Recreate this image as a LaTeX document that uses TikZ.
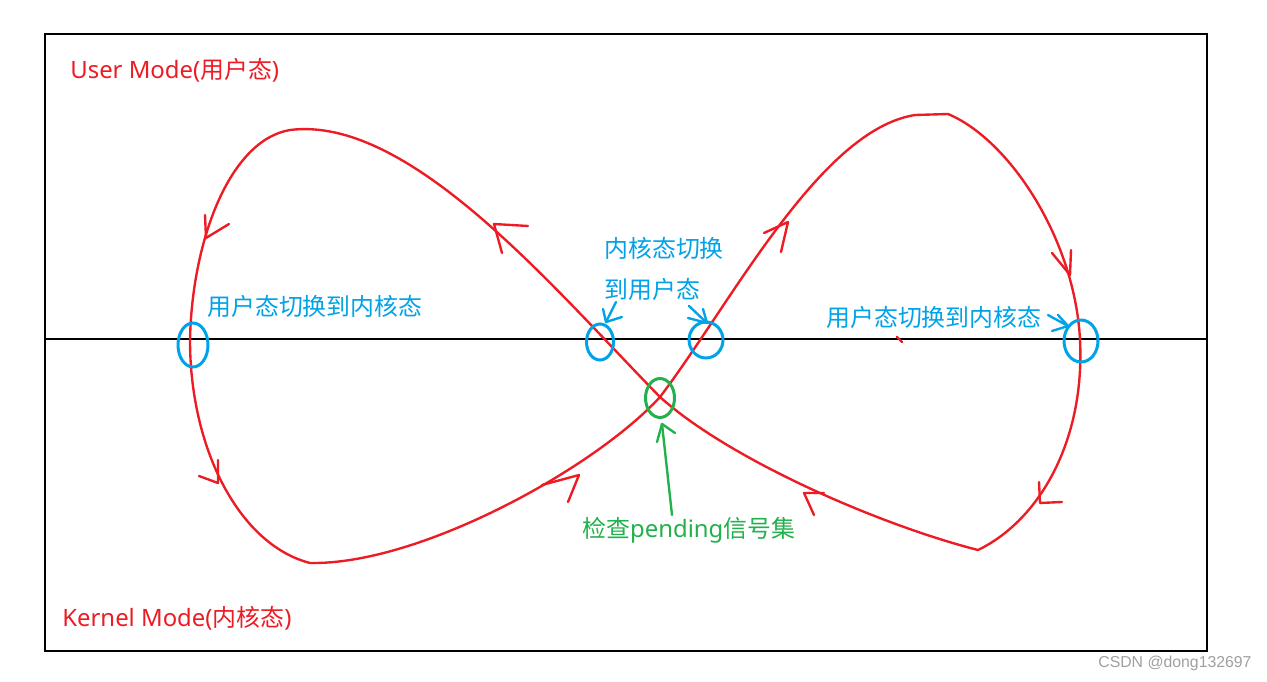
\documentclass[tikz,border=0pt]{standalone}
\usepackage{fontspec}
\setmainfont{Noto Sans CJK SC}
\newfontfamily\latinf{Noto Sans}
\newfontfamily\wmfont{Liberation Sans}
\usetikzlibrary{shapes.geometric}
\definecolor{pred}{HTML}{ED1C24}
\definecolor{pblue}{HTML}{00A2E8}
\definecolor{pgreen}{HTML}{22B14C}
\definecolor{wmgray}{HTML}{A0A0A0}
\newcommand\headmark[4][pred]{\draw[headline,#1] #3 -- #2 -- #4;}
\begin{document}
\begin{tikzpicture}[x=0.02cm,y=-0.02cm,
  frame/.style={draw=black,line width=1.3pt},
  loopline/.style={draw=pred,line width=1.35pt,line join=round,line cap=round},
  headline/.style={line width=1.35pt,line cap=round,line join=round},
  ring/.style={draw=pblue,line width=1.7pt,ellipse,inner sep=0pt},
  gring/.style={draw=pgreen,line width=1.7pt,ellipse,inner sep=0pt},
  lbl/.style={anchor=west,inner sep=0pt,font=\fontsize{13.6}{16}\selectfont},
  redlbl/.style={lbl,text=pred},
  bluelbl/.style={lbl,text=pblue},
  greenlbl/.style={lbl,text=pgreen}]
\useasboundingbox (0,0) rectangle (1267,682);
\fill[white] (0,0) rectangle (1267,682);

% frame and boundary line
\coordinate (tl) at (45,34);
\coordinate (br) at (1207,651);
\draw[frame] (tl) rectangle (br);
\coordinate (ml) at (45,339);
\coordinate (mr) at (1207,339);
\draw[frame] (ml) -- (mr);

% figure-eight path
\coordinate (X) at (660,397);
\coordinate (LT) at (290,130);
\coordinate (LM) at (190,340);
\coordinate (LB) at (310,563);
\coordinate (RT) at (948,114);
\coordinate (RM) at (1080,340);
\coordinate (RB) at (978,550);
\draw[loopline] (RB) .. controls (880,525) and (730,460) .. (X)
  .. controls (555,290) and (410,115) .. (LT)
  .. controls (230,140) and (192,240) .. (LM)
  .. controls (190,450) and (240,545) .. (LB)
  .. controls (420,565) and (595,468) .. (X)
  .. controls (732,302) and (820,130) .. (915,115) -- (RT)
  .. controls (1010,140) and (1075,240) .. (RM)
  .. controls (1085,440) and (1040,520) .. (RB);
\draw[loopline] (897,337) -- (902,342);

% arrowheads on the loop
\headmark{(494,224)}{(528,226)}{(502,253)}
\headmark{(206,238)}{(205,215)}{(229,224)}
\headmark{(218,483)}{(218,460)}{(199,476)}
\headmark{(579,475)}{(542,485)}{(568,502)}
\headmark{(788,222)}{(764,233)}{(781,252)}
\headmark{(1070,275)}{(1052,253)}{(1071,250)}
\headmark{(1040,503)}{(1039,482)}{(1062,502)}
\headmark{(804,493)}{(824,493)}{(814,515)}

% rings
\node[ring,minimum width=0.6cm,minimum height=0.88cm] (c1) at (193,345) {};
\node[ring,minimum width=0.54cm,minimum height=0.72cm] (c2) at (600,342) {};
\node[ring,minimum width=0.68cm,minimum height=0.72cm] (c3) at (706,340) {};
\node[ring,minimum width=0.68cm,minimum height=0.84cm] (c4) at (1081,341) {};
\node[gring,minimum width=0.58cm,minimum height=0.78cm] (g1) at (660,398) {};

% labels
\node[redlbl] (um) at (70,70) {{\latinf User Mode(}用户态{\latinf )}};
\node[redlbl] (km) at (62,618) {{\latinf Kernel Mode(}内核态{\latinf )}};
\node[bluelbl] (t1) at (207,306) {用户态切换到内核态};
\node[bluelbl] (t2) at (604,248) {内核态切换};
\node[bluelbl] (t3) at (604,289) {到用户态};
\node[bluelbl] (t4) at (826,317) {用户态切换到内核态};
\node[greenlbl] (t5) at (582,530) {检查{\latinf pending}信号集};
\node[anchor=west,inner sep=0pt,text=wmgray,font=\wmfont\fontsize{9}{10}\selectfont] (wm) at (1098,663) {CSDN @dong132697};

% blue pointer arrows
\coordinate (p1s) at (616,302);
\coordinate (p1t) at (606,322);
\draw[headline,pblue] (p1s) -- (p1t);
\headmark[pblue]{(p1t)}{(603,309)}{(622,317)}
\coordinate (p2s) at (689,306);
\coordinate (p2t) at (707,323);
\draw[headline,pblue] (p2s) -- (p2t);
\headmark[pblue]{(p2t)}{(688,318)}{(703,309)}
\coordinate (p3s) at (1048,315);
\coordinate (p3t) at (1068,326);
\draw[headline,pblue] (p3s) -- (p3t);
\headmark[pblue]{(p3t)}{(1052,331)}{(1058,315)}

% green pointer arrow
\coordinate (gs) at (672,515);
\coordinate (gt) at (662,424);
\draw[headline,pgreen] (gs) -- (gt);
\headmark[pgreen]{(gt)}{(657,442)}{(675,433)}
\end{tikzpicture}
\end{document}
